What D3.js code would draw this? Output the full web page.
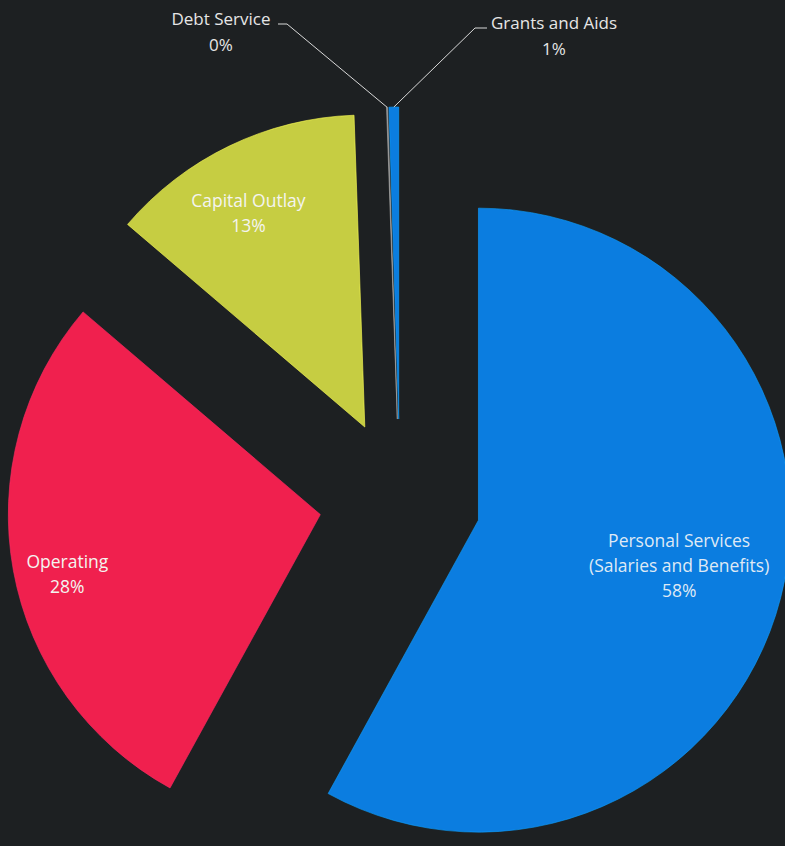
<html>
    <head>
        <script src="https://cdnjs.cloudflare.com/ajax/libs/d3/7.8.5/d3.min.js" type="text/JavaScript"></script>
        <style>
            body { margin: 0; background: #1d2022; }
            svg { display: block; }
        </style>
    </head>
    <body>
        <svg width="785" height="846"></svg>

        <script>
            // budget share by category (percent)
            let categories = ["Personal Services", "Operating", "Capital Outlay", "Debt Service", "Grants and Aids"];
            let subLabels = ["(Salaries and Benefits)", "", "", "", ""];
            let shares = [58.0, 28.25, 13.2, 0.05, 0.5];
            let colors = ["#0b7de0", "#f0204e", "#c6cd42", "#8a8a8a", "#0b7de0"];

            var cx = 400, cy = 500, radius = 312, explode = 81;

            var svg = d3.select("svg");

            svg.append("rect")
                .attr("width", 785)
                .attr("height", 846)
                .style("fill", "#1d2022");

            var pie = d3.pie().sort(null).value(d => d.value);
            var arc = d3.arc().innerRadius(0).outerRadius(radius);

            var data = categories.map((c, i) => ({ name: c, sub: subLabels[i], value: shares[i], color: colors[i] }));
            var arcs = pie(data);

            // centre of each exploded slice
            function sliceCentre(d) {
                var a = (d.startAngle + d.endAngle) / 2;
                return [cx + explode * Math.sin(a), cy - explode * Math.cos(a)];
            }

            var g = svg.append("g");

            g.selectAll("path.slice")
                .data(arcs)
                .enter()
                .append("path")
                .attr("class", "slice")
                .attr("d", arc)
                .attr("transform", d => "translate(" + sliceCentre(d) + ")")
                .style("fill", d => d.data.color)
                .style("stroke", d => d3.color(d.data.color).brighter(0.7))
                .style("stroke-width", 1)
                .style("stroke-opacity", 0.6);

            // labels inside the large slices
            var labelFrac = [0.661, 0.834, 0.776];
            var labelNudge = [-1.1, -3.2, -3.0]; // degrees off the bisector
            var font = "'Open Sans', sans-serif";
            var lineH = 25;

            arcs.slice(0, 3).forEach((d, i) => {
                var a = (d.startAngle + d.endAngle) / 2;
                var c = sliceCentre(d);
                var la = a + labelNudge[i] * Math.PI / 180;
                var x = c[0] + radius * labelFrac[i] * Math.sin(la);
                var y = c[1] - radius * labelFrac[i] * Math.cos(la);
                var lines = [d.data.name];
                if (d.data.sub) lines.push(d.data.sub);
                lines.push(Math.round(d.data.value) + "%");
                var top = y - (lines.length - 1) * 25.5 / 2 + 5;
                var t = svg.append("text")
                    .attr("text-anchor", "middle")
                    .style("font-family", font)
                    .style("font-size", "17.5px")
                    .style("fill", i == 0 ? "#dfe9f5" : "#f4f4f0");
                lines.forEach((l, k) => {
                    t.append("tspan").attr("x", x).attr("y", top + k * lineH).text(l);
                });
            });

            // small slices get labels outside with leader lines
            var outside = [
                { i: 3, x: 221, y: 25, elbow: [287, 24], end: [278, 24] },
                { i: 4, x: 554, y: 29, elbow: [475, 28], end: [487, 28] }
            ];

            outside.forEach(o => {
                var d = arcs[o.i];
                var a = (d.startAngle + d.endAngle) / 2;
                var c = sliceCentre(d);
                var p = [c[0] + radius * Math.sin(a), c[1] - radius * Math.cos(a)];
                svg.append("path")
                    .attr("d", d3.line()([p, o.elbow, o.end]))
                    .style("fill", "none")
                    .style("stroke", "#d8d8d8")
                    .style("stroke-width", 1);
                var t = svg.append("text")
                    .attr("text-anchor", "middle")
                    .style("font-family", font)
                    .style("font-size", "17px")
                    .style("fill", "#e6e6e6");
                t.append("tspan").attr("x", o.x).attr("y", o.y).text(d.data.name);
                t.append("tspan").attr("x", o.x).attr("y", o.y + 26).text(Math.round(d.data.value) + "%");
            });
        </script>
    </body>
</html>
